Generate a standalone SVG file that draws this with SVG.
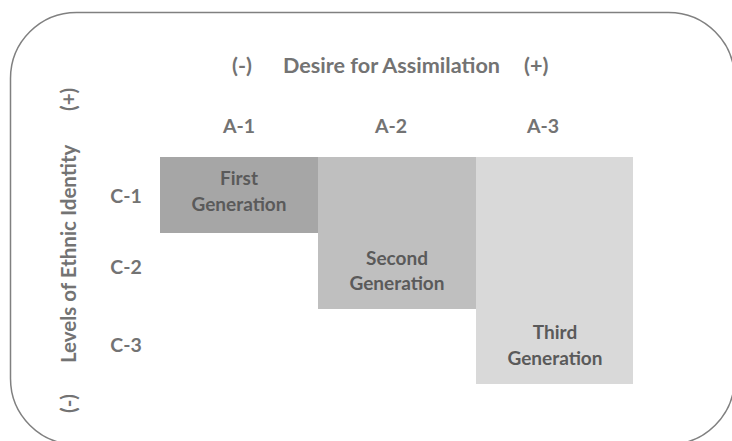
<svg xmlns="http://www.w3.org/2000/svg" width="732" height="441" viewBox="0 0 732 441">
<style>
.t{font-family:Lato,"Open Sans","Liberation Sans",sans-serif;font-weight:bold;fill:#737373;}
.h{font-size:21.6px;}
.v{font-size:20.5px;}
.l{font-size:19.5px;text-anchor:middle;}
.b{font-size:19px;fill:#5a5a5a;text-anchor:middle;}
</style>
<rect x="10.5" y="12.5" width="724" height="432" rx="66" ry="66" fill="#ffffff" stroke="#808080" stroke-width="1.5"/>
<g id="axis-x">
<text class="t h" x="232" y="73">(-)</text>
<text class="t h" x="283" y="73">Desire for Assimilation</text>
<text class="t h" x="524" y="73">(+)</text>
</g>
<g id="axis-y" transform="translate(76,0) rotate(-90)">
<text class="t v" x="-111" y="0">(+)</text>
<text class="t v" x="-363" y="0">Levels of Ethnic Identity</text>
<text class="t v" x="-413" y="0">(-)</text>
</g>
<g id="cols">
<text class="t l" x="239" y="133">A-1</text>
<text class="t l" x="391" y="133">A-2</text>
<text class="t l" x="543" y="133">A-3</text>
</g>
<g id="rows">
<text class="t l" x="126" y="203">C-1</text>
<text class="t l" x="126" y="274">C-2</text>
<text class="t l" x="126" y="352">C-3</text>
</g>
<g id="third">
<rect x="476" y="157" width="157" height="227" fill="#d9d9d9"/>
<text class="t b" x="555" y="339">Third</text>
<text class="t b" x="555" y="365">Generation</text>
</g>
<g id="second">
<rect x="318" y="157" width="158" height="152" fill="#bfbfbf"/>
<text class="t b" x="397" y="265">Second</text>
<text class="t b" x="397" y="290">Generation</text>
</g>
<g id="first">
<rect x="160" y="157" width="158" height="76" fill="#a6a6a6"/>
<text class="t b" x="239" y="185">First</text>
<text class="t b" x="239" y="211">Generation</text>
</g>
</svg>
